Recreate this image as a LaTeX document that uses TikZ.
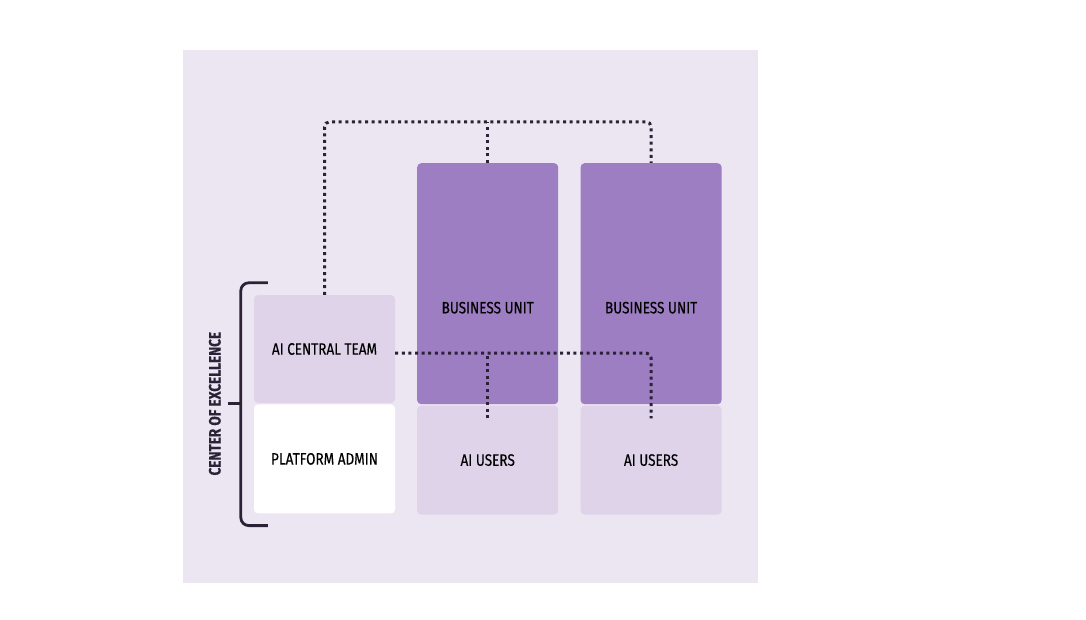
\documentclass[tikz,border=0pt]{standalone}
\usepackage{fontspec}
\setmainfont[FakeStretch=0.82, FakeBold=0.3]{Fira Sans}
\usepackage[HTML]{xcolor}
\usetikzlibrary{positioning, calc}

\definecolor{panelbg}{HTML}{ECE6F2}
\definecolor{lightlilac}{HTML}{DFD3EA}
\definecolor{unitpurple}{HTML}{9E7EC2}
\definecolor{inkdark}{HTML}{2B2238}

\begin{document}
\begin{tikzpicture}[x=1pt, y=-1pt, node distance=1pt and 22pt, % Setting global styles
    box/.style={rectangle, rounded corners=4pt, minimum width=141pt, inner sep=0pt,
        font=\fontsize{16.5}{19}\selectfont, text=black},
    unitlabel/.style={label={[yshift=-24pt, font=\fontsize{16.5}{19}\selectfont, text=black]center:#1}},
    dotline/.style={draw=inkdark, line width=3pt, dash pattern=on 3pt off 3.6pt, rounded corners=5pt},
    bracket/.style={draw=inkdark, line width=2.8pt, rounded corners=8pt}]

    \useasboundingbox (0,0) rectangle (1086,620);

    % 1. Background panel
    \fill[panelbg] (183,50) rectangle (758,583);

    % 2. Define Nodes: centre of excellence column, then the two business units
    \node (central) [box, fill=lightlilac, minimum height=108pt] at (324.5,349) {AI CENTRAL TEAM};
    \node (admin) [box, fill=white, minimum height=109pt, below=of central] {PLATFORM ADMIN};
    \node (bua) [box, fill=unitpurple, minimum height=241pt, anchor=north west,
        unitlabel={BUSINESS UNIT}] at (417,163) {};
    \node (usersa) [box, fill=lightlilac, minimum height=109pt, below=of bua] {AI USERS};
    \node (bub) [box, fill=unitpurple, minimum height=241pt, right=of bua,
        unitlabel={BUSINESS UNIT}] {};
    \node (usersb) [box, fill=lightlilac, minimum height=109pt, below=of bub] {AI USERS};

    % 3. Dotted reporting lines over the top
    \draw[dotline] (central.north) -- ++(0,-173) -| (bub.north);
    \draw[dotline] (bua.north) -- ++(0,-41);

    % 4. Dotted links from the central team into the AI users
    \coordinate (linkstart) at ($(central.east)+(0,4)$);
    \coordinate (enda) at ($(usersa.north)+(0,13)$);
    \coordinate (endb) at ($(usersb.north)+(0,13)$);
    \draw[dotline] (linkstart) -| (endb);
    \draw[dotline] (enda) -- (enda |- linkstart);

    % 5. Bracket round the centre of excellence
    \coordinate (brtop) at ($(central.north west)+(14,-12)$);
    \coordinate (brbot) at ($(admin.south west)+(14,12)$);
    \draw[bracket] (brtop) -- ++(-27,0) -- ($(brbot)+(-27,0)$) -- (brbot);
    \coordinate (brmid) at ($(central.south west)!0.5!(admin.north west)+(-13,0)$);
    \draw[bracket, rounded corners=0pt] (brmid) -- ++(-13,0);
    \node (coe) [rotate=90, font=\bfseries\fontsize{16.5}{19}\selectfont, text=inkdark]
        at ($(brmid)+(-26,0)$) {CENTER OF EXCELLENCE};
\end{tikzpicture}
\end{document}
